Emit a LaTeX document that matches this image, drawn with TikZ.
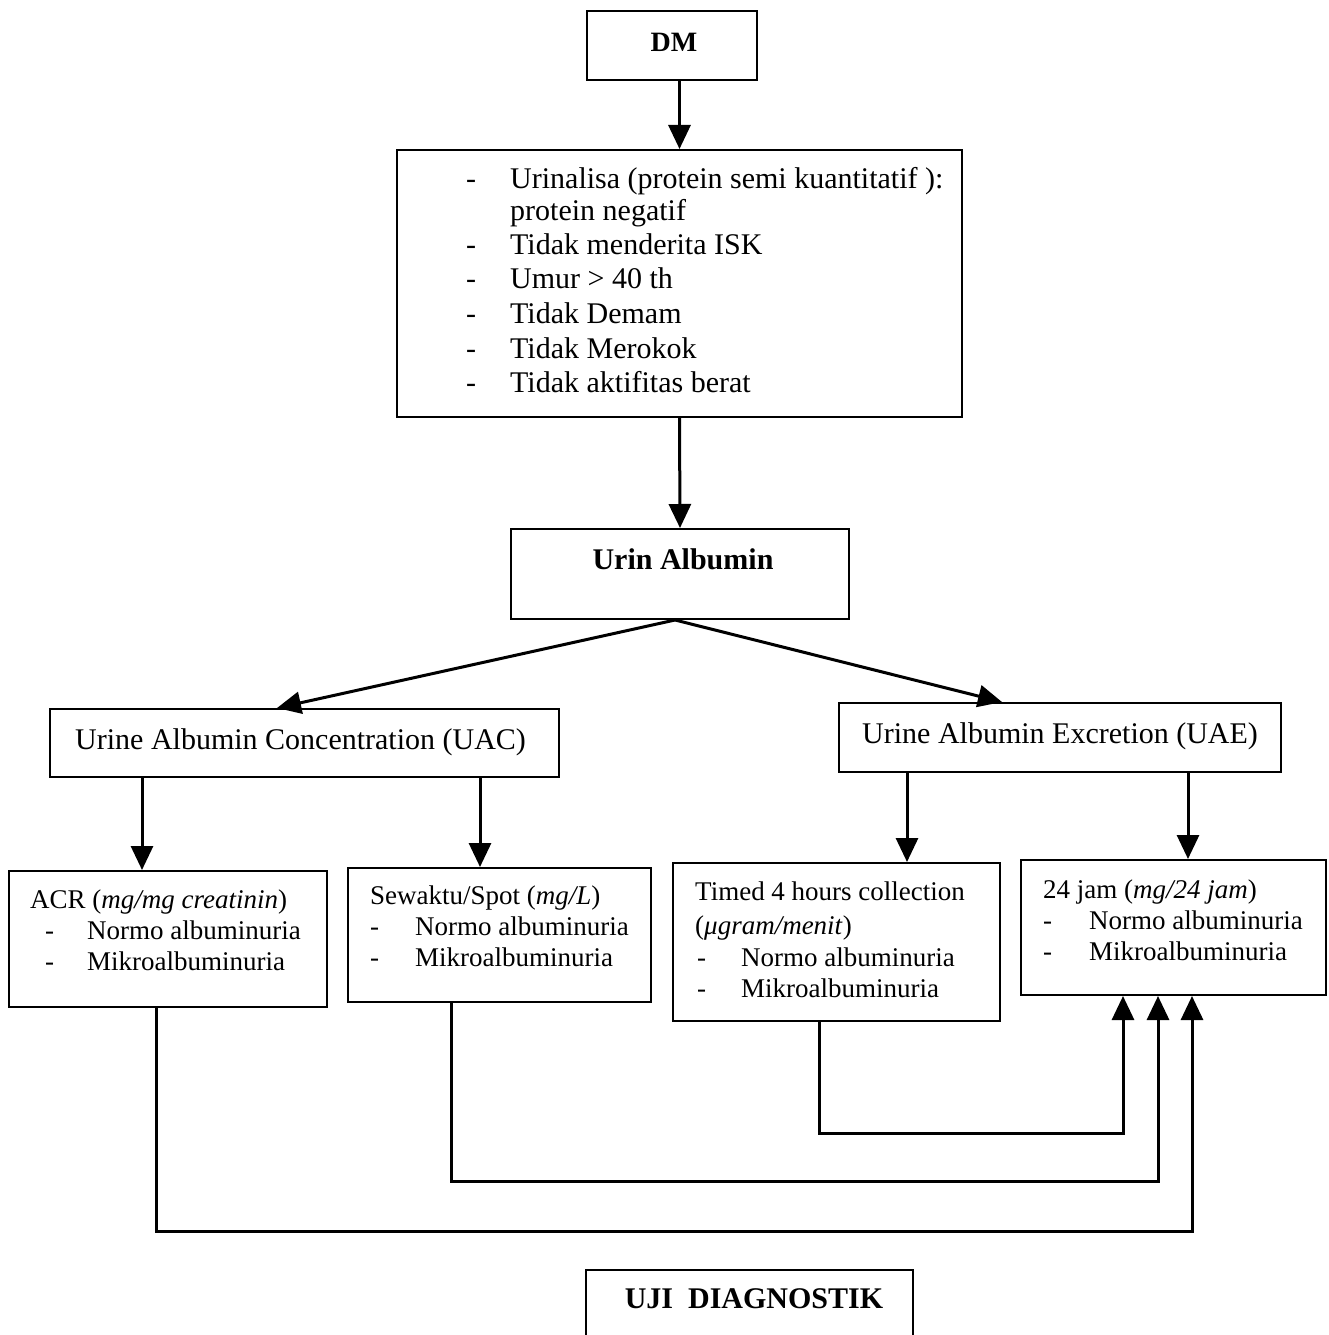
\documentclass[tikz,border=0pt]{standalone}
\usepackage{fontspec}
\setmainfont{Liberation Serif}
\usetikzlibrary{arrows.meta}
\begin{document}
\begin{tikzpicture}[x=1pt,y=-1pt,
  box/.style={draw, line width=2pt, inner sep=0pt, rectangle},
  arr/.style={line width=3pt, -{Triangle[length=24pt,width=22pt]}},
  big/.style={inner sep=0pt, anchor=base west, font=\fontsize{30}{34}\selectfont},
  sml/.style={inner sep=0pt, anchor=base west, font=\fontsize{27}{31}\selectfont},
  bld/.style={inner sep=0pt, anchor=base, font=\fontsize{30}{34}\selectfont\bfseries}]
\useasboundingbox (0,0) rectangle (1328,1335);
% boxes
\node[box, minimum width=170, minimum height=69] (dm) at (672,45.5) {};
\node[box, minimum width=565, minimum height=267] (crit) at (679.5,283.5) {};
\node[box, minimum width=338, minimum height=90] (ua) at (680,574) {};
\node[box, minimum width=509, minimum height=68] (uac) at (304.5,743) {};
\node[box, minimum width=442, minimum height=69] (uae) at (1060,737.5) {};
\node[box, minimum width=318, minimum height=136] (acr) at (168,939) {};
\node[box, minimum width=303, minimum height=134] (sew) at (499.5,935) {};
\node[box, minimum width=327, minimum height=158] (timed) at (836.5,942) {};
\node[box, minimum width=305, minimum height=135] (jam) at (1173.5,927.5) {};
\node[box, minimum width=327, minimum height=90] (uji) at (749.5,1315) {};
% texts
\node[bld, font=\fontsize{28}{32}\selectfont\bfseries] (tdm) at (674,52) {DM};
\foreach \y/\t [count=\i] in {188/{Urinalisa (protein semi kuantitatif ):},254/{Tidak menderita ISK},288/{Umur > 40 th},323/{Tidak Demam},358/{Tidak Merokok},392/{Tidak aktifitas berat}}{
  \node[big] (cd\i) at (466,\y) {-};
  \node[big] (ct\i) at (510,\y) {\t};
}
\node[big] (ctx) at (510,220) {protein negatif};
\node[bld] (tua) at (683,569) {Urin Albumin};
\node[big] (tuac) at (75,749) {Urine Albumin Concentration (UAC)};
\node[big] (tuae) at (862,743) {Urine Albumin Excretion (UAE)};
% ACR
\node[sml] (a0) at (30,908) {ACR (\textit{mg/mg creatinin})};
\node[sml] (a1d) at (45,939) {-};
\node[sml] (a1) at (87,939) {Normo albuminuria};
\node[sml] (a2d) at (45,970) {-};
\node[sml] (a2) at (87,970) {Mikroalbuminuria};
% Sewaktu
\node[sml] (s0) at (370,904) {Sewaktu/Spot (\textit{mg/L})};
\node[sml] (s1d) at (370,935) {-};
\node[sml] (s1) at (415,935) {Normo albuminuria};
\node[sml] (s2d) at (370,966) {-};
\node[sml] (s2) at (415,966) {Mikroalbuminuria};
% Timed
\node[sml] (t0) at (695,900) {Timed 4 hours collection};
\node[sml] (t1) at (695,934) {(\textit{μgram/menit})};
\node[sml] (t2d) at (697,966) {-};
\node[sml] (t2) at (741,966) {Normo albuminuria};
\node[sml] (t3d) at (697,997) {-};
\node[sml] (t3) at (741,997) {Mikroalbuminuria};
% 24 jam
\node[sml] (j0) at (1043,898) {24 jam (\textit{mg/24 jam})};
\node[sml] (j1d) at (1043,929) {-};
\node[sml] (j1) at (1089,929) {Normo albuminuria};
\node[sml] (j2d) at (1043,960) {-};
\node[sml] (j2) at (1089,960) {Mikroalbuminuria};
% UJI
\node[bld] (tuji) at (754,1308) {UJI\ \ DIAGNOSTIK};
% connectors
\draw[arr] (dm.south -| crit.north) -- (crit.north);
\draw[arr] (crit.south) -- (ua.north);
\draw[arr] ([xshift=-5pt]ua.south) -- ([xshift=228pt]uac.north west);
\draw[arr] ([xshift=-5pt]ua.south) -- ([xshift=164pt]uae.north west);
\draw[arr] ([xshift=93pt]uac.south west) coordinate (p1) -- (p1 |- acr.north);
\draw[arr] ([xshift=431pt]uac.south west) coordinate (p2) -- (p2 |- sew.north);
\draw[arr] ([xshift=69pt]uae.south west) coordinate (p3) -- (p3 |- timed.north);
\draw[arr] ([xshift=350pt]uae.south west) coordinate (p4) -- (p4 |- jam.north);
\draw[arr] ([xshift=147pt]timed.south west) -- ++(0,111) -| ([xshift=103pt]jam.south west);
\draw[arr] ([xshift=104pt]sew.south west) -- ++(0,178) -| ([xshift=138pt]jam.south west);
\draw[arr] ([xshift=148pt]acr.south west) -- ++(0,223) -| ([xshift=172pt]jam.south west);
\end{tikzpicture}
\end{document}
